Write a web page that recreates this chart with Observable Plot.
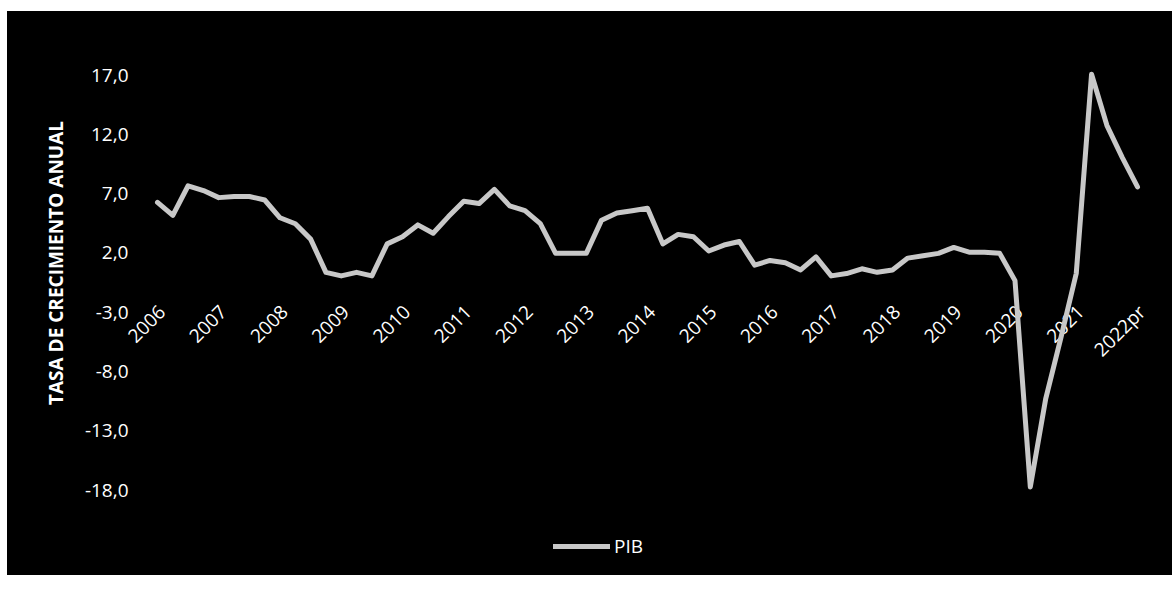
<!DOCTYPE html>
<html><head><meta charset="utf-8">
<script src="https://cdn.jsdelivr.net/npm/d3@7"></script>
<script src="https://cdn.jsdelivr.net/npm/@observablehq/plot@0.6"></script>
<style>
html,body{margin:0;padding:0;background:#fff;width:1172px;height:590px;overflow:hidden;}
#frame{position:absolute;left:7px;top:11px;width:1165px;height:564px;background:#000;font-family:"Open Sans",sans-serif;color:#fff;}
#legend{position:absolute;left:546px;top:522px;display:flex;align-items:center;font-size:19px;line-height:26px;}
#legend .swatch{display:inline-block;width:57px;height:5px;background:#c8c8c8;margin-right:4px;}
</style></head><body>
<div id="frame"><div id="chart"></div><div id="legend"><span class="swatch"></span><span>PIB</span></div></div>
<script>
// Year labels (one per 4 quarters)
const yearLabels = ["2006","2007","2008","2009","2010","2011","2012","2013","2014","2015","2016","2017","2018","2019","2020","2021","2022pr"];
// Quarterly annual growth rate of PIB (%), 2006-I .. 2022-I
const pib = [
  6.3, 5.2, 7.7, 7.3,
  6.7, 6.8, 6.8, 6.5,
  5.0, 4.5, 3.2, 0.4,
  0.1, 0.4, 0.1, 2.8,
  3.4, 4.4, 3.7, 5.1,
  6.4, 6.2, 7.4, 6.0,
  5.6, 4.5, 2.0, 2.0,
  2.0, 4.8, 5.4, 5.6,
  5.8, 2.8, 3.6, 3.4,
  2.2, 2.7, 3.0, 1.0,
  1.4, 1.2, 0.6, 1.7,
  0.1, 0.3, 0.7, 0.4,
  0.6, 1.6, 1.8, 2.0,
  2.5, 2.1, 2.1, 2.0,
  -0.3, -17.7, -10.3, -5.1,
  0.3, 17.1, 12.8, 10.1,
  7.6
];
const yTicks = [-18, -13, -8, -3, 2, 7, 12, 17];
const yTitle = "TASA DE CRECIMIENTO ANUAL";
const seriesName = "PIB";

const rows = pib.map((v, i) => ({i, v}));
const yearTicks = yearLabels.map((label, k) => ({i: k * 4, label}));
const fmt = d => d.toFixed(1).replace(".", ",");

const chart = Plot.plot({
  width: 1165,
  height: 520,
  marginTop: 64,
  marginBottom: 41,
  marginLeft: 150,
  marginRight: 35,
  style: {background: "#000", color: "#fff", fontFamily: "Open Sans, sans-serif", fontSize: "19px", overflow: "visible"},
  x: {type: "linear", domain: [0, pib.length - 1], axis: null},
  y: {domain: [-18, 17], axis: null},
  marks: [
    Plot.axisY({ticks: yTicks, tickFormat: fmt, tickSize: 0, tickPadding: 29, fontSize: 19, label: null}),
    Plot.text(yearTicks, {x: "i", y: () => 0, text: "label", rotate: -45, textAnchor: "end", dx: 5, dy: 32, fontSize: 19, fill: "#fff"}),
    Plot.line(rows, {x: "i", y: "v", stroke: "#c8c8c8", strokeWidth: 5, strokeLinejoin: "round"}),
    Plot.text([yTitle], {frameAnchor: "left", textAnchor: "middle", lineAnchor: "middle", dx: -101, dy: -20, rotate: -90, fontSize: 19, fontWeight: "bold", fill: "#fff"})
  ]
});
document.getElementById("chart").appendChild(chart);
document.querySelector("#legend span:last-child").textContent = seriesName;
</script>
</body></html>
